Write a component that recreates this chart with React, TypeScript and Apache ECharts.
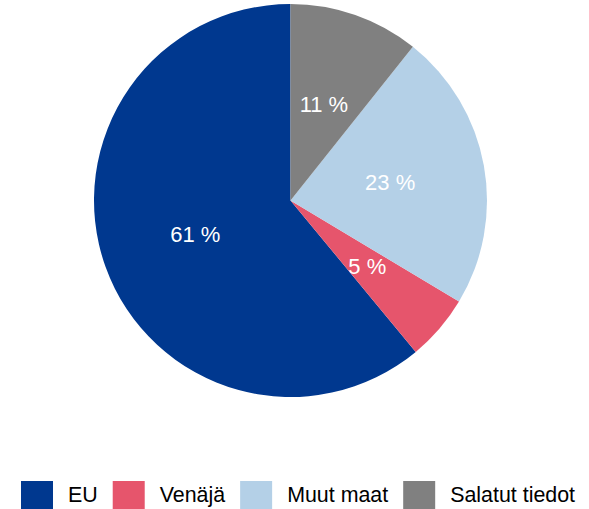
import React, { useEffect, useRef } from "react";
import * as echarts from "echarts";

const categories = ["EU", "Venäjä", "Muut maat", "Salatut tiedot"];
const values = [61.0, 5.4, 22.9, 10.7];
const colors = ["#00388F", "#E6556C", "#B4D0E7", "#808080"];

export default function App() {
  const ref = useRef<HTMLDivElement>(null);
  useEffect(() => {
    document.body.style.margin = "0";
    if (!ref.current) return;
    const chart = echarts.init(ref.current, null, { renderer: "svg" });
    const font = "'Liberation Sans', Arial, sans-serif";
    chart.setOption({
      animation: false,
      backgroundColor: "#ffffff",
      color: colors,
      legend: {
        data: categories,
        left: 21,
        top: 481,
        orient: "horizontal",
        icon: "rect",
        itemWidth: 32,
        itemHeight: 28,
        itemGap: 15,
        padding: 0,
        selectedMode: false,
        textStyle: {
          fontFamily: font,
          fontSize: 21.4,
          color: "#000000",
          padding: [0, 0, 0, 10],
        },
      },
      series: [
        {
          type: "pie",
          center: [290.5, 200.5],
          radius: 196.5,
          startAngle: 90,
          clockwise: false,
          silent: true,
          data: categories.map((name, i) => ({ name, value: values[i] })),
          itemStyle: { borderWidth: 0 },
          label: {
            show: true,
            position: "inside",
            color: "#ffffff",
            fontFamily: font,
            fontSize: 22,
            formatter: (p: any) => Math.round(p.value) + " %",
          },
          labelLine: { show: false },
          emphasis: { disabled: true },
        },
      ],
    });
    return () => chart.dispose();
  }, []);
  return <div ref={ref} style={{ width: 589, height: 509 }} />;
}
